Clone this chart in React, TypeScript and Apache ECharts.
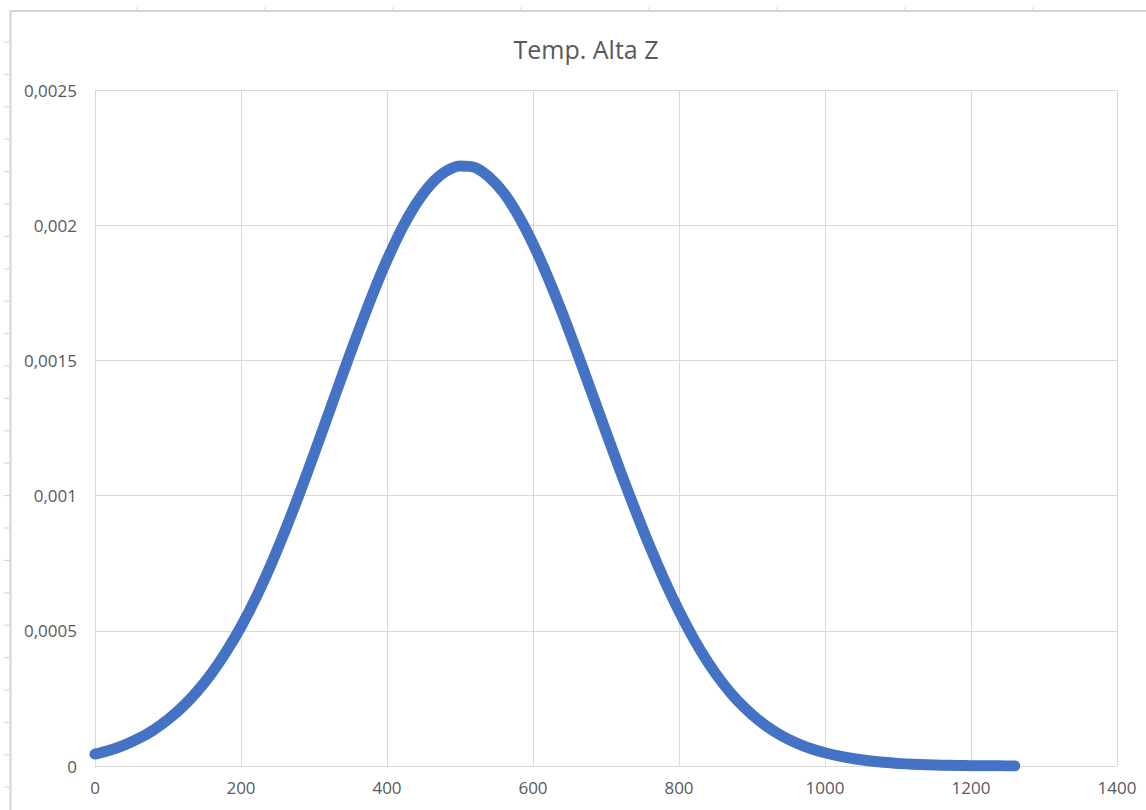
import React, { useEffect, useRef } from "react";
import * as echarts from "echarts";

const titleText = "Temp. Alta Z";
const xValues = [
  0, 20, 40, 60, 80, 100, 120, 140, 160, 180, 200, 220, 240, 260, 280, 300,
  320, 340, 360, 380, 400, 420, 440, 460, 480, 500, 520, 540, 560, 580, 600,
  620, 640, 660, 680, 700, 720, 740, 760, 780, 800, 820, 840, 860, 880, 900,
  920, 940, 960, 980, 1000, 1020, 1040, 1060, 1080, 1100, 1120, 1140, 1160,
  1180, 1200, 1220, 1240, 1260,
];
const yValues = [
  0.000044, 0.0000585, 0.0000775, 0.000102, 0.000133, 0.000172, 0.000219,
  0.000276, 0.000344, 0.000424, 0.000515, 0.00062, 0.000738, 0.000868,
  0.001007, 0.001153, 0.001303, 0.001454, 0.001601, 0.001742, 0.001871,
  0.001985, 0.002079, 0.002151, 0.002198, 0.002219, 0.002214, 0.002178,
  0.002119, 0.002035, 0.001931, 0.00181, 0.001676, 0.001532, 0.001384,
  0.001235, 0.001088, 0.000947, 0.000812, 0.000687, 0.000573, 0.000471,
  0.000382, 0.000306, 0.000242, 0.00019, 0.000147, 0.000113, 0.000086,
  0.000065, 0.000049, 0.0000365, 0.0000268, 0.0000192, 0.0000136, 0.0000095,
  0.0000065, 0.0000044, 0.000003, 0.000002, 0.0000013, 0.0000008, 0.0000005,
  0.0000003,
];
const xAxisMin = 0;
const xAxisMax = 1400;
const xAxisStep = 200;
const yAxisMin = 0;
const yAxisMax = 0.0025;
const yAxisStep = 0.0005;

const FONT = "'Open Sans', 'Liberation Sans', sans-serif";
const GRID = "#d9d9d9";
const TEXT = "#595959";

export default function App() {
  const ref = useRef<HTMLDivElement>(null);
  useEffect(() => {
    if (!ref.current) return;
    const chart = echarts.init(ref.current, undefined, { renderer: "svg" });
    const data = xValues.map((x, i) => [x, yValues[i]]);

    const leftTicks: any[] = [];
    for (let k = 0; k < 24; k++) {
      const y = 42 + k * 32.4;
      leftTicks.push({
        type: "line",
        shape: { x1: 4, y1: y, x2: 10, y2: y },
        style: { stroke: "#d4d4d4", lineWidth: 1 },
        silent: true,
      });
    }
    const topTicks: any[] = [];
    for (let k = 0; k < 9; k++) {
      const x = 137 + k * 128;
      topTicks.push({
        type: "line",
        shape: { x1: x, y1: 7, x2: x, y2: 10 },
        style: { stroke: "#d4d4d4", lineWidth: 1 },
        silent: true,
      });
    }

    chart.setOption({
      animation: false,
      backgroundColor: "#ffffff",
      title: {
        text: titleText,
        left: 581,
        top: 31,
        textAlign: "center",
        textStyle: {
          fontFamily: FONT,
          fontSize: 25,
          fontWeight: "normal",
          color: TEXT,
        },
      },
      grid: { left: 95, top: 90, right: 29, bottom: 44, containLabel: false },
      xAxis: {
        type: "value",
        min: xAxisMin,
        max: xAxisMax,
        interval: xAxisStep,
        axisLine: { show: true, lineStyle: { color: GRID, width: 1 } },
        axisTick: { show: false },
        splitLine: { show: true, lineStyle: { color: GRID, width: 1 } },
        axisLabel: {
          color: TEXT,
          fontFamily: FONT,
          fontSize: 17,
          margin: 13,
          formatter: (v: number) => String(v),
        },
      },
      yAxis: {
        type: "value",
        min: yAxisMin,
        max: yAxisMax,
        interval: yAxisStep,
        axisLine: { show: true, lineStyle: { color: GRID, width: 1 } },
        axisTick: { show: false },
        splitLine: { show: true, lineStyle: { color: GRID, width: 1 } },
        axisLabel: {
          color: TEXT,
          fontFamily: FONT,
          fontSize: 17,
          margin: 18,
          formatter: (v: number) => String(Number(v.toFixed(6))).replace(".", ","),
        },
      },
      graphic: [
        {
          type: "line",
          shape: { x1: 10.5, y1: 10, x2: 10.5, y2: 810 },
          style: { stroke: "#d4d4d4", lineWidth: 2 },
          silent: true,
        },
        {
          type: "line",
          shape: { x1: 10, y1: 11, x2: 1146, y2: 11 },
          style: { stroke: "#d4d4d4", lineWidth: 2 },
          silent: true,
        },
        ...leftTicks,
        ...topTicks,
      ],
      series: [
        {
          type: "line",
          data,
          smooth: 0.3,
          showSymbol: false,
          lineStyle: { color: "#4472C4", width: 11, cap: "round", join: "round" },
          itemStyle: { color: "#4472C4" },
        },
      ],
    });
    return () => chart.dispose();
  }, []);
  return <div ref={ref} style={{ width: 1146, height: 810, position: "absolute", left: 0, top: 0 }} />;
}
